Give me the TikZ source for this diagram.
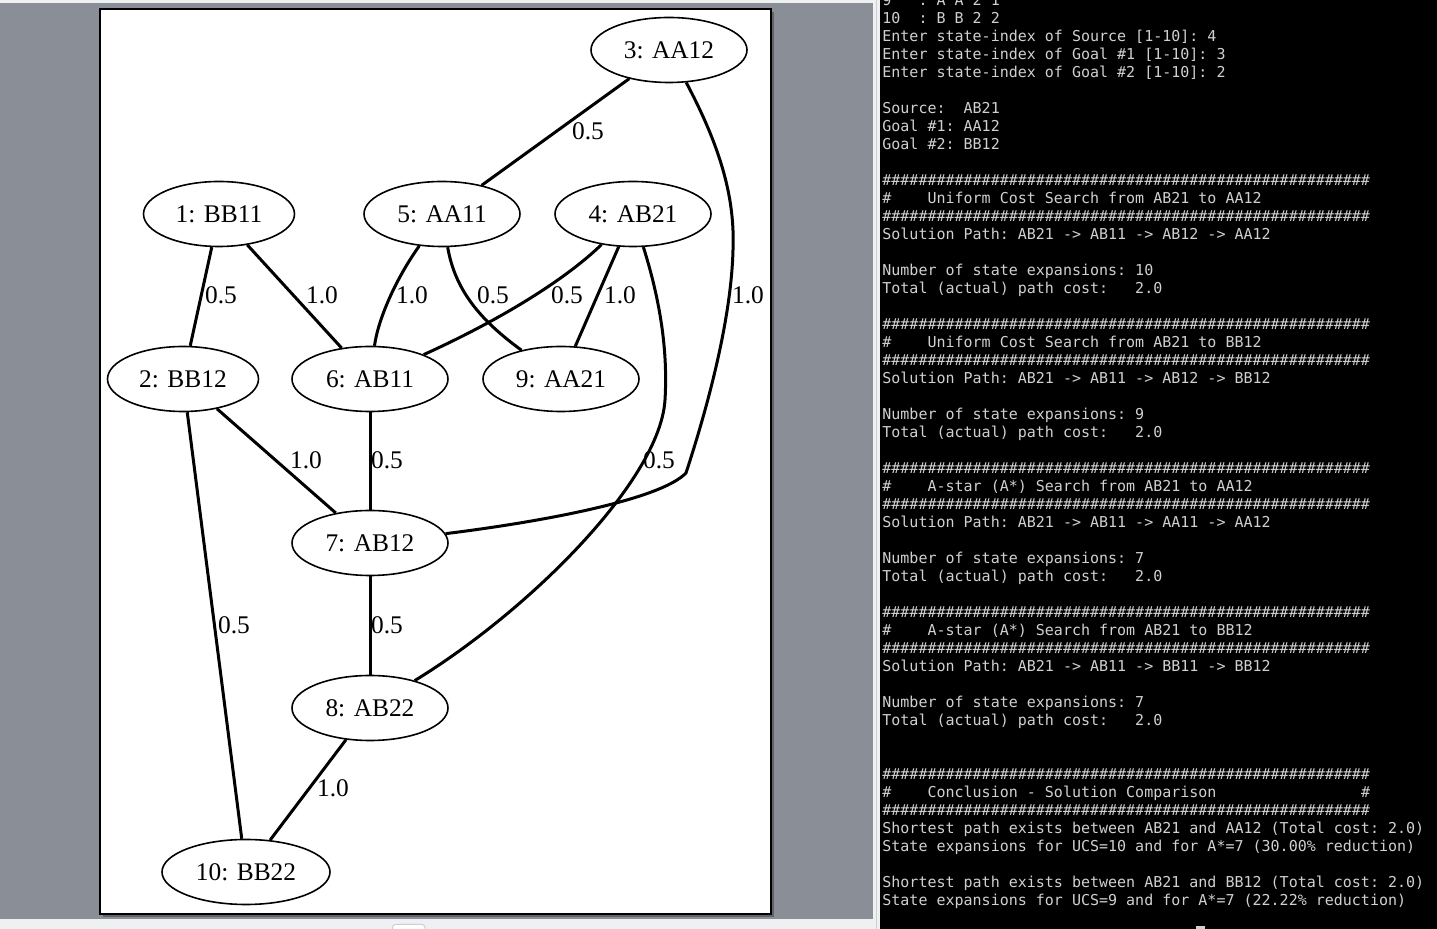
\documentclass[tikz,border=0pt]{standalone}
\usepackage{fontspec}
\setmainfont{Liberation Serif}
\setmonofont{DejaVu Sans Mono}
\usetikzlibrary{shapes.geometric}
\definecolor{deskgrey}{RGB}{138,142,150}
\definecolor{barlight}{RGB}{239,240,241}
\definecolor{barline}{RGB}{205,207,210}
\definecolor{pageshadow}{RGB}{96,100,106}
\definecolor{termtext}{RGB}{208,208,208}

\newcommand{\graphfont}{\fontsize{12.7}{15}\selectfont}
\newcommand{\termfont}{\fontsize{7.5}{9}\selectfont\ttfamily}
\newcommand{\hashes}{\#\#\#\#\#\#\#\#\#\#\#\#\#\#\#\#\#\#\#\#\#\#\#\#\#\#\#\#\#\#\#\#\#\#\#\#\#\#\#\#\#\#\#\#\#\#\#\#\#\#\#\#\#\#}

\begin{document}
\begin{tikzpicture}[
    x=0.5pt, y=-0.5pt,
    state/.style={ellipse, draw, line width=0.8pt, fill=white, minimum width=78pt, minimum height=32.5pt, inner sep=0pt, font=\graphfont},
    wt/.style={inner sep=0pt, font=\graphfont},
    edge/.style={line width=1.5pt},
    termline/.style={anchor=base west, inner sep=0pt, text=termtext, font=\termfont}
]
    \useasboundingbox (0,0) rectangle (1437,929);

    % viewer background and page
    \fill[deskgrey] (0,0) rectangle (873,929);
    \fill[barlight] (0,0) rectangle (873,3);
    \fill[barlight] (0,919) rectangle (880,929);
    \fill[barlight] (873,0) rectangle (880,929);
    \draw[barline, line width=0.5pt] (876.5,0) -- (876.5,929);
    \draw[barline, fill=white, rounded corners=1.5pt, line width=0.5pt] (392.5,930) -- (392.5,924.5) -- (425,924.5) -- (425,930);
    \fill[pageshadow] (103,12) rectangle (774,917);
    \draw[fill=white, line width=0.75pt] (100,9) rectangle (771,914);

    % states
    \node[state] (s3) at (669,50) {3: AA12};
    \node[state, minimum width=75.5pt] (s1) at (219,214) {1: BB11};
    \node[state] (s5) at (442,214) {5: AA11};
    \node[state] (s4) at (633,214) {4: AB21};
    \node[state, minimum width=75.5pt] (s2) at (183,379) {2: BB12};
    \node[state] (s6) at (370,379) {6: AB11};
    \node[state] (s9) at (561,379) {9: AA21};
    \node[state] (s7) at (370,543) {7: AB12};
    \node[state] (s8) at (370,708) {8: AB22};
    \node[state, minimum width=84pt] (s10) at (246,872) {10: BB22};

    % transitions
    \draw[edge] (s3) -- (s5);
    \draw[edge] (s3) .. controls (722,150) and (735,200) .. (733,250)
        .. controls (731,330) and (700,430) .. (686,473)
        .. controls (660,500) and (540,522) .. (s7);
    \draw[edge] (s1) -- (s2);
    \draw[edge] (s1) -- (s6);
    \draw[edge] (s5) .. controls (395,280) and (378,320) .. (s6);
    \draw[edge] (s5) .. controls (455,290) and (480,320) .. (s9);
    \draw[edge] (s4) .. controls (565,280) and (500,320) .. (s6);
    \draw[edge] (s4) -- (s9);
    \draw[edge] (s4) .. controls (660,300) and (668,350) .. (665,400)
        .. controls (660,480) and (530,610) .. (s8);
    \draw[edge] (s2) -- (s7);
    \draw[edge] (s2) -- (s10);
    \draw[edge] (s6) -- (s7);
    \draw[edge] (s7) -- (s8);
    \draw[edge] (s8) -- (s10);

    % costs
    \foreach \x/\y/\c in {588/131/0.5, 221/295/0.5, 322/295/1.0, 412/295/1.0,
        493/295/0.5, 567/295/0.5, 620/295/1.0, 748/295/1.0, 306/460/1.0,
        387/460/0.5, 659/460/0.5, 234/625/0.5, 387/625/0.5, 333/788/1.0}
        \node[wt] at (\x,\y) {\c};

    % terminal
    \fill[black] (880,0) rectangle (1437,929);
    \begin{scope}
    \clip (880,0) rectangle (1437,929);
    \foreach \ln [count=\i from 0] in {
        {9~~~:~A~A~2~1},
        {10~~:~B~B~2~2},
        {Enter state-index of Source [1-10]: 4},
        {Enter state-index of Goal \#1 [1-10]: 3},
        {Enter state-index of Goal \#2 [1-10]: 2},
        {},
        {Source:~~AB21},
        {Goal \#1: AA12},
        {Goal \#2: BB12},
        {},
        {\hashes},
        {\#~~~~Uniform Cost Search from AB21 to AA12},
        {\hashes},
        {Solution Path: AB21 -> AB11 -> AB12 -> AA12},
        {},
        {Number of state expansions: 10},
        {Total (actual) path cost:~~~2.0},
        {},
        {\hashes},
        {\#~~~~Uniform Cost Search from AB21 to BB12},
        {\hashes},
        {Solution Path: AB21 -> AB11 -> AB12 -> BB12},
        {},
        {Number of state expansions: 9},
        {Total (actual) path cost:~~~2.0},
        {},
        {\hashes},
        {\#~~~~A-star (A*) Search from AB21 to AA12},
        {\hashes},
        {Solution Path: AB21 -> AB11 -> AA11 -> AA12},
        {},
        {Number of state expansions: 7},
        {Total (actual) path cost:~~~2.0},
        {},
        {\hashes},
        {\#~~~~A-star (A*) Search from AB21 to BB12},
        {\hashes},
        {Solution Path: AB21 -> AB11 -> BB11 -> BB12},
        {},
        {Number of state expansions: 7},
        {Total (actual) path cost:~~~2.0},
        {},
        {},
        {\hashes},
        {\#~~~~Conclusion - Solution Comparison~~~~~~~~~~~~~~~~\#},
        {\hashes},
        {Shortest path exists between AB21 and AA12 (Total cost: 2.0)},
        {State expansions for UCS=10 and for A*=7 (30.00\% reduction)},
        {},
        {Shortest path exists between AB21 and BB12 (Total cost: 2.0)},
        {State expansions for UCS=9 and for A*=7 (22.22\% reduction)}}
        \node[termline] (line\i) at (882,6+18*\i) {\ln};
    \fill[termtext] (1196,926) rectangle (1205,929);
    \end{scope}
\end{tikzpicture}
\end{document}
